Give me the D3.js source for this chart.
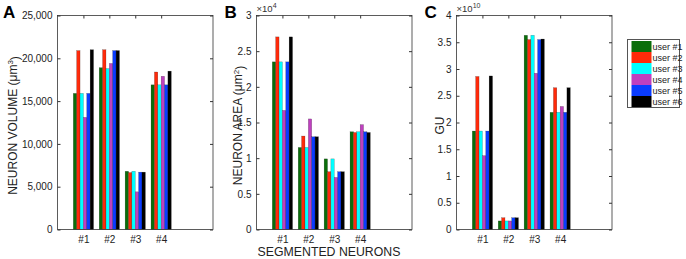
<!DOCTYPE html>
<html>
<head>
<meta charset="utf-8">
<script src="https://cdnjs.cloudflare.com/ajax/libs/d3/7.8.5/d3.min.js"></script>
<style>
  body { margin: 0; background: #fff; }
  svg { display: block; font-family: "Liberation Sans", Arial, sans-serif; }
</style>
</head>
<body>
<svg id="chart" width="686" height="259"></svg>
<script>
const categories = ["#1", "#2", "#3", "#4"];
const users = ["user #1", "user #2", "user #3", "user #4", "user #5", "user #6"];
const userColors = ["#0a6e0a", "#ff2a0a", "#00ffff", "#bf40bf", "#0a3cff", "#000000"];

// one row per segmented neuron, one value per user
const volumeValues = [
    [15900, 20900, 15900, 13100, 15900, 21000],
    [18900, 21000, 18800, 19400, 20900, 20900],
    [6800, 6650, 6800, 4400, 6700, 6700],
    [16900, 18400, 16900, 17900, 16900, 18500]
];
const areaValues = [
    [23500, 27000, 23500, 16700, 23500, 27000],
    [11500, 13100, 11500, 15500, 13000, 13000],
    [9900, 8100, 9900, 7300, 8100, 8100],
    [13700, 13600, 13700, 14700, 13700, 13600]
];
const guValues = [
    [1.84e10, 2.86e10, 1.84e10, 1.38e10, 1.84e10, 2.87e10],
    [0.16e10, 0.22e10, 0.16e10, 0.16e10, 0.22e10, 0.22e10],
    [3.63e10, 3.55e10, 3.63e10, 2.92e10, 3.55e10, 3.56e10],
    [2.19e10, 2.65e10, 2.19e10, 2.30e10, 2.19e10, 2.65e10]
];

const volumeTicks = [0, 5000, 10000, 15000, 20000, 25000];
const areaTicks = [0, 5000, 10000, 15000, 20000, 25000, 30000];
const guTicks = [0, 0.5e10, 1e10, 1.5e10, 2e10, 2.5e10, 3e10, 3.5e10, 4e10];

const svg = d3.select("#chart");
const axisColor = "#333";
const plotTop = 15.5, plotBottom = 229.5, boxW = 155.5;

const panels = [
    { letter: "A", left: 57.5, values: volumeValues, ticks: volumeTicks, max: 25000,
      fmt: d => d3.format(",")(d), title: "NEURON VOLUME (\u03bcm", sup: "3", titleX: 12.5, exp: null },
    { letter: "B", left: 256.5, values: areaValues, ticks: areaTicks, max: 30000,
      fmt: d => d3.format("~g")(d / 1e4), title: "NEURON AREA (\u03bcm", sup: "2", titleX: 238, exp: "4" },
    { letter: "C", left: 456.5, values: guValues, ticks: guTicks, max: 4e10,
      fmt: d => d3.format("~g")(d / 1e10), title: "GU", sup: null, titleX: 440, exp: "10" }
];

panels.forEach(p => {
    const right = p.left + boxW;
    const x = d3.scaleLinear().domain([0, 6]).range([p.left, right]);
    const y = d3.scaleLinear().domain([0, p.max]).range([plotBottom, plotTop]);
    const g = svg.append("g");

    // bars
    const barW = 0.13;
    p.values.forEach((row, ci) => {
        g.selectAll(null)
            .data(row)
            .enter().append("rect")
            .attr("x", (d, ui) => x(ci + 1 + (ui - 3) * barW))
            .attr("y", d => y(d))
            .attr("width", x(barW) - x(0))
            .attr("height", d => y(0) - y(d))
            .attr("fill", (d, ui) => userColors[ui])
            .attr("stroke", "#000")
            .attr("stroke-opacity", 0.45)
            .attr("stroke-width", 0.4);
    });

    // left axis, ticks inside
    g.append("g")
        .attr("transform", `translate(${p.left},0)`)
        .call(d3.axisLeft(y).tickValues(p.ticks).tickFormat(p.fmt).tickSizeInner(-3).tickSizeOuter(0).tickPadding(5))
        .call(a => a.select(".domain").remove())
        .call(a => a.selectAll("line").attr("stroke", axisColor))
        .call(a => a.selectAll("text").attr("fill", "#222").style("font-size", "10px")
            .style("font-family", "'Liberation Sans', Arial, sans-serif"));

    // right axis ticks
    g.append("g")
        .attr("transform", `translate(${right},0)`)
        .call(d3.axisRight(y).tickValues(p.ticks).tickFormat("").tickSizeInner(-3).tickSizeOuter(0))
        .call(a => a.select(".domain").remove())
        .call(a => a.selectAll("line").attr("stroke", axisColor));

    // top ticks
    g.append("g")
        .attr("transform", `translate(0,${plotTop})`)
        .call(d3.axisTop(x).tickValues([1, 2, 3, 4]).tickFormat("").tickSizeInner(-3).tickSizeOuter(0))
        .call(a => a.select(".domain").remove())
        .call(a => a.selectAll("line").attr("stroke", axisColor));

    // bottom category labels
    g.append("g")
        .attr("transform", `translate(0,${plotBottom})`)
        .call(d3.axisBottom(x).tickValues([1, 2, 3, 4]).tickFormat((d, i) => categories[i]).tickSize(0).tickPadding(6))
        .call(a => a.select(".domain").remove())
        .call(a => a.selectAll("text").attr("fill", "#222").style("font-size", "10px")
            .style("font-family", "'Liberation Sans', Arial, sans-serif"));

    // box
    g.append("rect")
        .attr("x", p.left).attr("y", plotTop)
        .attr("width", boxW).attr("height", plotBottom - plotTop)
        .attr("fill", "none")
        .attr("stroke", axisColor)
        .attr("stroke-width", 0.8);

    // y title
    const t = g.append("text")
        .attr("transform", `translate(${p.titleX},${(plotTop + plotBottom) / 2 + 3}) rotate(-90)`)
        .attr("text-anchor", "middle")
        .attr("dy", "0.35em")
        .style("font-size", "12px")
        .attr("fill", "#222")
        .text(p.title);
    if (p.sup) {
        t.append("tspan").attr("dy", "-0.45em").style("font-size", "8px").text(p.sup);
        t.append("tspan").attr("dy", "0.45em").text(")");
    }

    // exponent
    if (p.exp) {
        const e = g.append("text")
            .attr("x", p.left)
            .attr("y", 12)
            .style("font-size", "9.5px")
            .attr("fill", "#333")
            .text("\u00d710");
        e.append("tspan").attr("dy", "-4").style("font-size", "7px").text(p.exp);
    }

    // panel letter
    g.append("text")
        .attr("x", p.letter === "A" ? 3 : p.left - 32)
        .attr("y", 18)
        .style("font-size", "17px")
        .style("font-weight", "bold")
        .attr("fill", "#000")
        .text(p.letter);
});

// shared x title
svg.append("text")
    .attr("x", 329)
    .attr("y", 256)
    .attr("text-anchor", "middle")
    .style("font-size", "12.3px")
    .attr("fill", "#222")
    .text("SEGMENTED NEURONS");

// legend
const legend = svg.append("g").attr("transform", "translate(627.5,39.5)");
legend.append("rect")
    .attr("width", 52).attr("height", 68)
    .attr("fill", "#fff")
    .attr("stroke", "#555")
    .attr("stroke-width", 1);
const rowH = 11;
legend.selectAll(".sw")
    .data(users)
    .enter().append("rect")
    .attr("class", "sw")
    .attr("x", 4)
    .attr("y", (d, i) => 1.5 + i * rowH)
    .attr("width", 20)
    .attr("height", rowH)
    .attr("fill", (d, i) => userColors[i]);
legend.selectAll(".lb")
    .data(users)
    .enter().append("text")
    .attr("class", "lb")
    .attr("x", 25)
    .attr("y", (d, i) => 1.5 + i * rowH + rowH / 2)
    .attr("dy", "0.35em")
    .style("font-size", "9px")
    .attr("fill", "#222")
    .text(d => d);
</script>
</body>
</html>
